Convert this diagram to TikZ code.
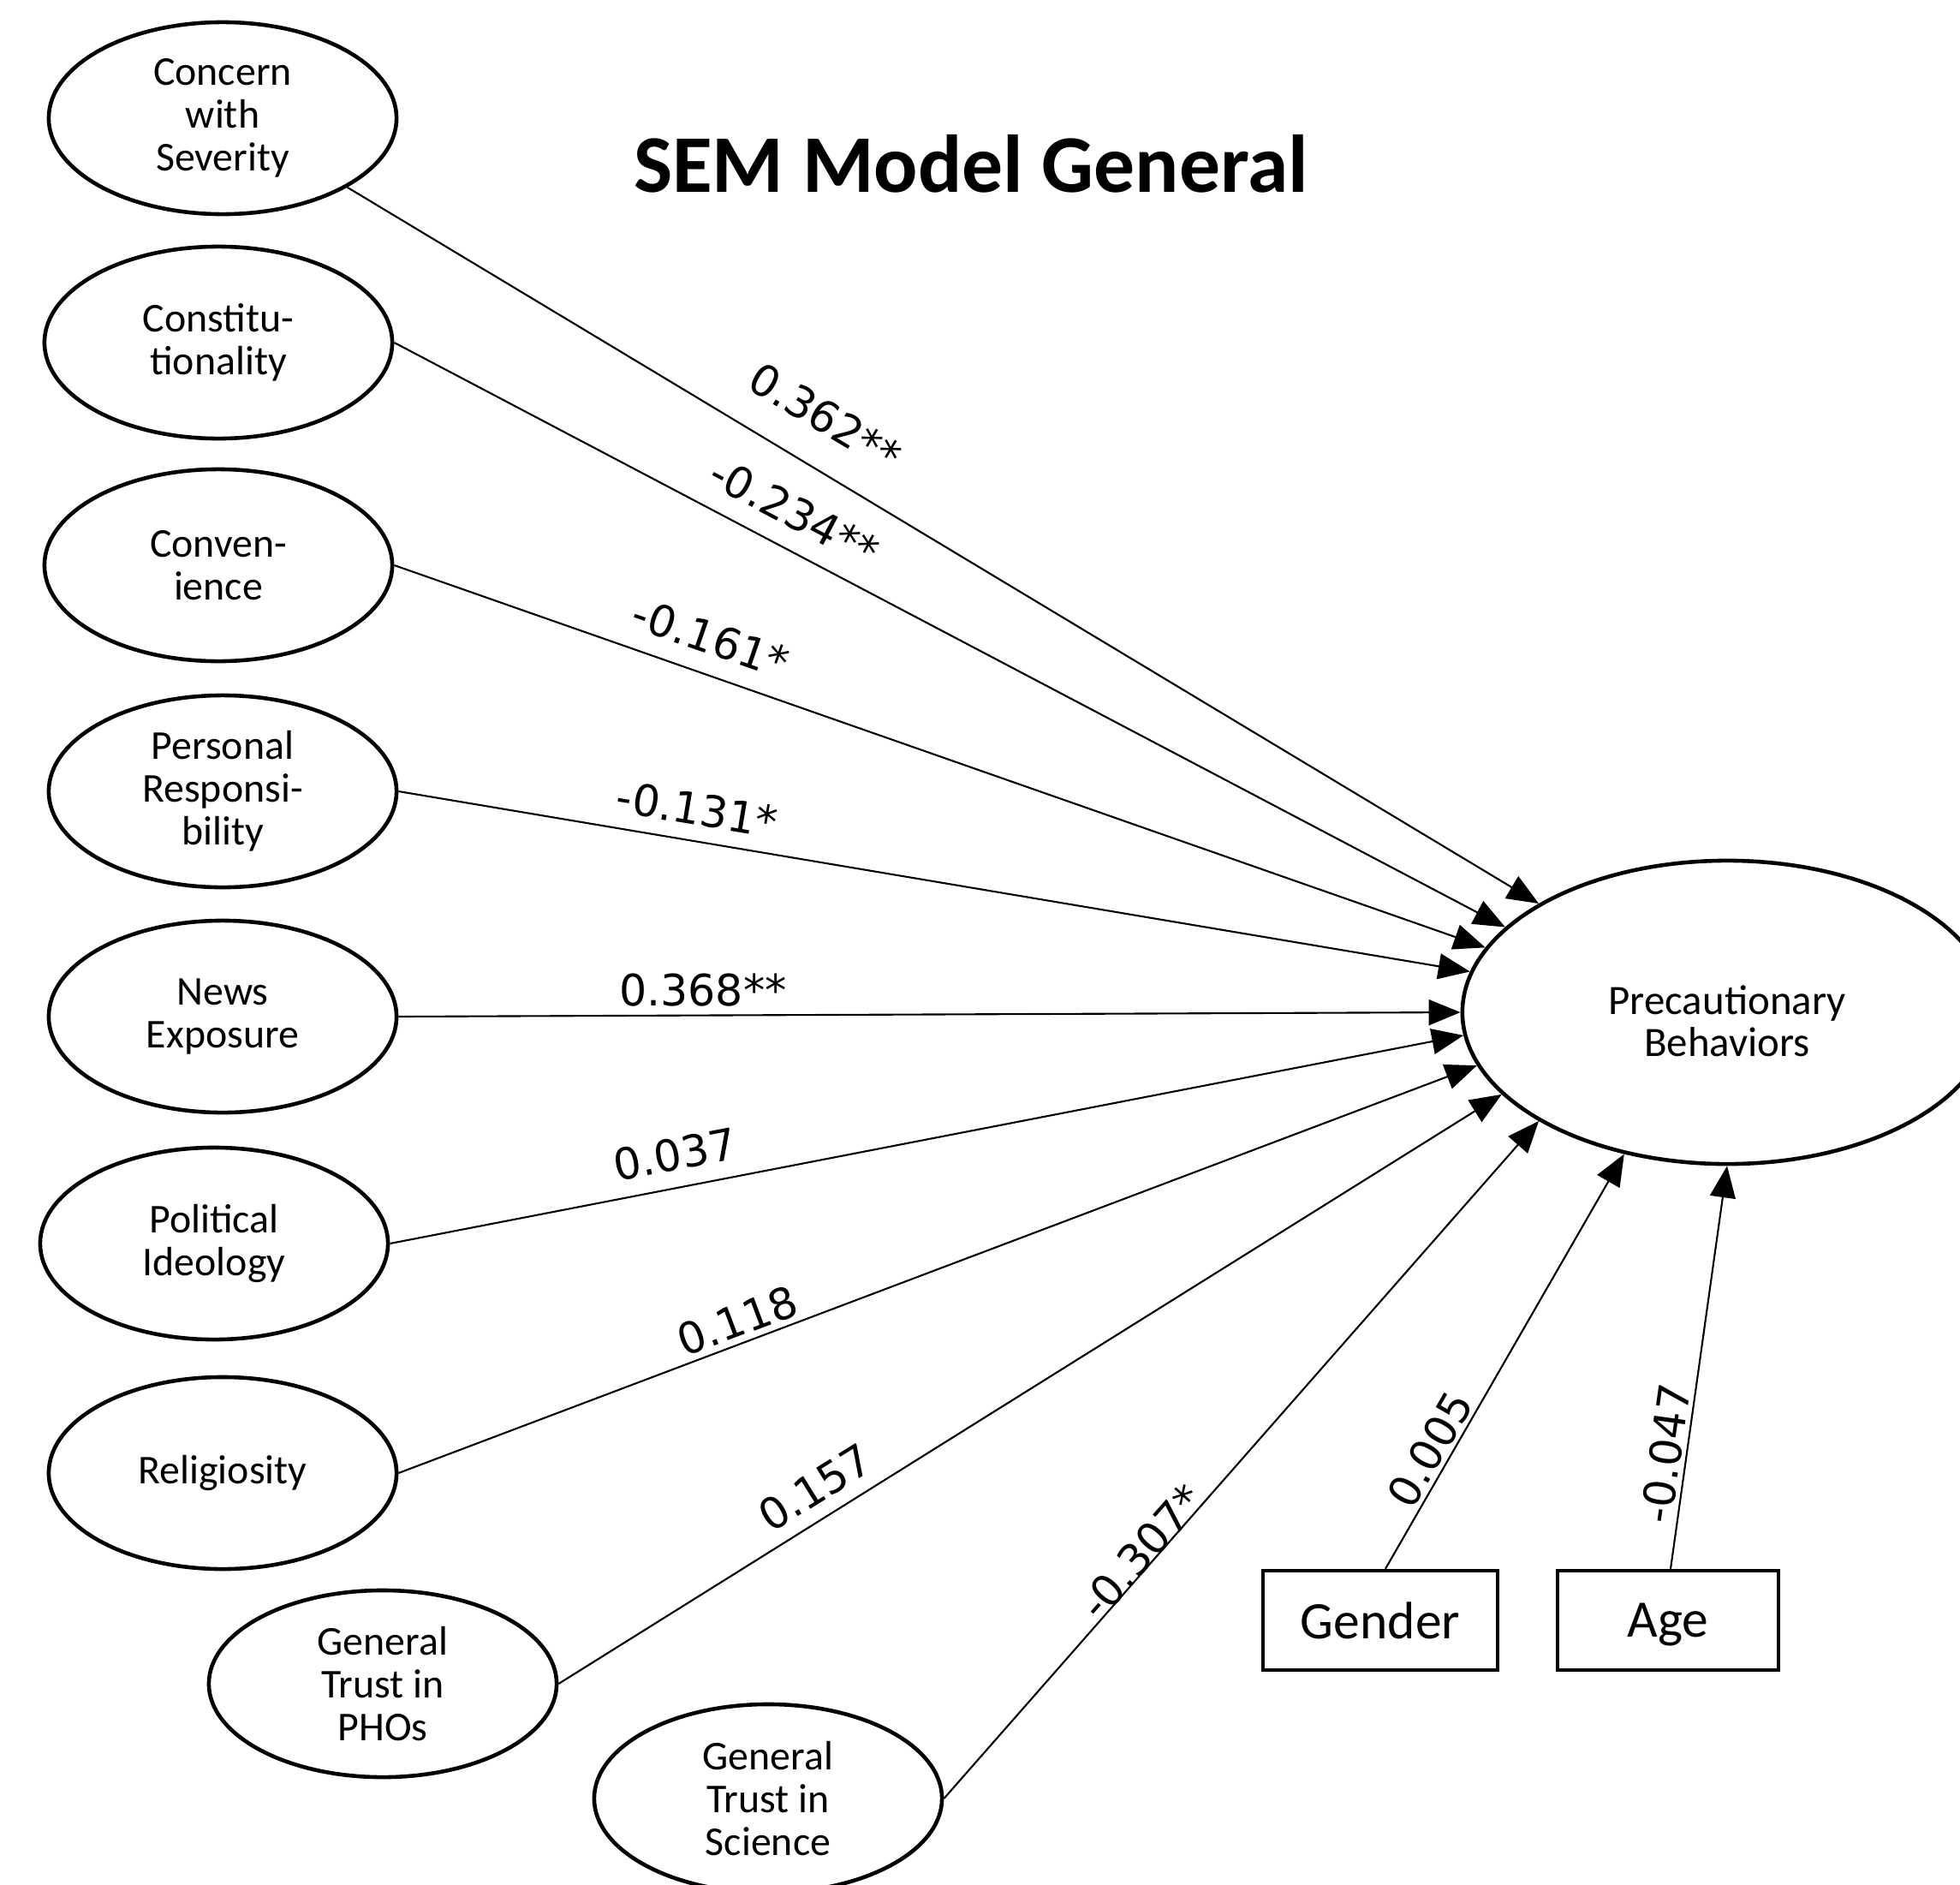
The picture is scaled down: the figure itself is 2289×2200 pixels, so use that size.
\documentclass[tikz,border=0pt]{standalone}
\usepackage{fontspec}
\setmainfont{Carlito}
\newfontfamily\numfont{DejaVu Sans}
\usetikzlibrary{shapes.geometric,arrows.meta}
\begin{document}
\begin{tikzpicture}[x=0.01cm,y=-0.01cm,
  lat/.style={draw, ellipse, line width=1.3pt, inner sep=0pt,
    minimum width=4.06cm, minimum height=2.24cm, align=center,
    font=\fontsize{13.6}{14.2}\selectfont},
  obs/.style={draw, rectangle, line width=1.3pt, inner sep=0pt,
    minimum height=1.16cm, text depth=0pt, font=\fontsize{17.5}{19}\selectfont},
  arr/.style={line width=0.6pt, -{Triangle[length=10.5pt,width=8.5pt]}},
  coef/.style={font=\numfont\fontsize{14.4}{16}\selectfont, inner sep=0pt}]
\clip (0,0) rectangle (2289,2200);
\fill[white] (0,0) rectangle (2289,2200);

\node[anchor=base, font=\fontsize{27.2}{30}\selectfont\bfseries] (title) at (1134,224) {SEM Model General};

\node[lat] (conc) at (260,138) {Concern\\with\\Severity};
\node[lat] (const) at (255,400) {Constitu-\\tionality};
\node[lat] (conv) at (255,660) {Conven-\\ience};
\node[lat] (pers) at (260,924) {Personal\\Responsi-\\bility};
\node[lat] (news) at (260,1187) {News\\Exposure};
\node[lat] (pol) at (250,1452) {Political\\Ideology};
\node[lat] (rel) at (260,1720) {Religiosity};
\node[lat, minimum height=2.18cm] (pho) at (447,1966) {General\\Trust in\\PHOs};
\node[lat, minimum height=2.2cm] (sci) at (897,2100) {General\\Trust in\\Science};

\node[draw, ellipse, line width=1.3pt, inner sep=0pt, minimum width=6.18cm,
  minimum height=3.54cm] (P) at (2017,1182) {};
\node[align=center, inner sep=0pt, font=\fontsize{13.9}{14}\selectfont]
  (Ptxt) at ([yshift=-0.1cm]P.center) {Precautionary\\Behaviors};

\node[obs, minimum width=2.74cm] (gen) at (1612,1892) {Gender};
\node[obs, minimum width=2.58cm] (age) at (1948,1892) {Age};

\draw[arr] (conc.-29) -- (P.150);
\draw[arr] (const.east) -- (P.159.5);
\draw[arr] (conv.east) -- (P.165.4);
\draw[arr] (pers.east) -- (P.171);
\draw[arr] (news.east) -- (P.180);
\draw[arr] (pol.east) -- (P.185.5);
\draw[arr] (rel.east) -- (P.192.7);
\draw[arr] (pho.east) -- (P.200.4);
\draw[arr] (sci.east) -- (P.210.1);
\draw[arr] ([xshift=0.06cm]gen.north) -- (P.234.3);
\draw[arr] ([xshift=0.03cm]age.north) -- (P.270);

\node[coef, rotate=-31] (c1) at (964,487) {0.362**};
\node[coef, rotate=-27.8] (c2) at (928,598) {-0.234**};
\node[coef, rotate=-19.1] (c3) at (830,745) {-0.161*};
\node[coef, rotate=-9.4] (c4) at (814,945) {-0.131*};
\node[coef] (c5) at (821,1156) {0.368**};
\node[coef, rotate=10.9] (c6) at (788,1348) {0.037};
\node[coef, rotate=20.6] (c7) at (861,1542) {0.118};
\node[coef, rotate=31.9] (c8) at (952,1737) {0.157};
\node[coef, rotate=48.4] (c9) at (1333,1812) {-0.307*};
\node[coef, rotate=60.1] (c10) at (1670,1692) {0.005};
\node[coef, rotate=82] (c11) at (1945,1697) {-0.047};
\end{tikzpicture}
\end{document}
